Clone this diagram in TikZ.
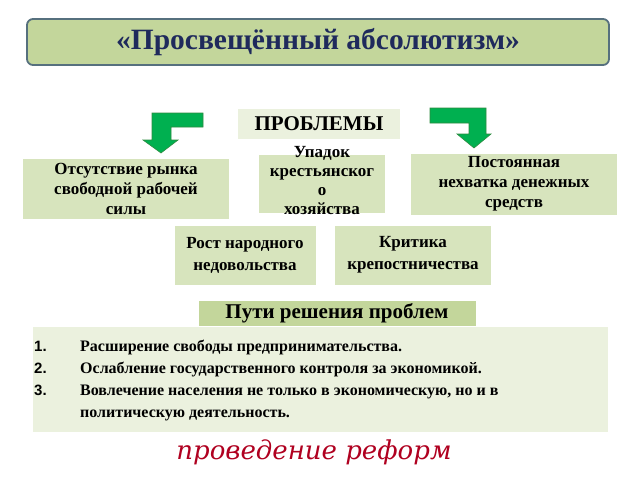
\documentclass[tikz,border=0pt]{standalone}
\usepackage{fontspec}
\setmainfont{Liberation Serif}
\newfontfamily\numfont{Liberation Sans}
\newfontfamily\reformfont{DejaVu Serif}
\definecolor{titlefill}{HTML}{C3D69B}
\definecolor{titleline}{HTML}{56707E}
\definecolor{titletext}{HTML}{1F2A5C}
\definecolor{boxfill}{HTML}{D7E4BD}
\definecolor{palefill}{HTML}{EBF1DE}
\definecolor{arrowfill}{HTML}{00B050}
\definecolor{arrowline}{HTML}{2E8B40}
\definecolor{reformred}{HTML}{B00020}
\begin{document}
\begin{tikzpicture}[x=1pt,y=-1pt,
    box/.style={fill=boxfill,inner sep=0pt,align=center,font=\bfseries\fontsize{17}{20}\selectfont},
    item/.style={anchor=base west,inner sep=0pt,font=\bfseries\fontsize{16}{22}\selectfont},
    num/.style={anchor=base west,inner sep=0pt,font=\numfont\bfseries\fontsize{15}{22}\selectfont},
    bent/.style={fill=arrowfill,draw=arrowline,line width=0.6pt,line join=miter}]
    \useasboundingbox (0,0) rectangle (640,480);
    \fill[white] (0,0) rectangle (640,480);
    % title
    \node[fill=titlefill,draw=titleline,line width=1.8pt,rounded corners=6pt,
        minimum width=582,minimum height=46,text=titletext,
        font=\bfseries\fontsize{29.5}{32}\selectfont] (title) at (318,42) {«Просвещённый абсолютизм»};
    % heading of problems
    \node[fill=palefill,minimum width=162,minimum height=30,inner sep=0pt,
        font=\bfseries\fontsize{21}{24}\selectfont] (problems) at (319,124) {ПРОБЛЕМЫ};
    % bent arrows
    \draw[bent] (203,113)--(152,113)--(152,140)--(143,140)--(161,153)--(178,140)--(171,140)--(171,127)--(203,127)--cycle;
    \draw[bent] (430,108)--(486,108)--(486,134)--(491,134)--(474,148)--(457,134)--(469,134)--(469,123)--(430,123)--cycle;
    % problems
    \node[box,minimum width=206,minimum height=60] (market) at (126,189) {Отсутствие рынка\\свободной рабочей\\силы};
    \node[box,minimum width=126,minimum height=58] (decline) at (322,184) {};
    \node[inner sep=0pt,align=center,font=\bfseries\fontsize{17}{19}\selectfont] (declinetext) at (322,181) {Упадок\\крестьянског\\о\\хозяйства};
    \node[box,minimum width=206,minimum height=61] (money) at (514,184) {Постоянная\\нехватка денежных\\средств};
    \node[box,font=\bfseries\fontsize{17}{22}\selectfont,minimum width=141,minimum height=59] (discontent) at (245,255) {Рост народного\\недовольства};
    \node[box,font=\bfseries\fontsize{17}{22}\selectfont,minimum width=156,minimum height=59] (critique) at (413,255) {Критика\\крепостничества};
    % solutions
    \node[fill=titlefill,minimum width=277,minimum height=25,inner sep=0pt,
        font=\bfseries\fontsize{21}{24}\selectfont] (ways) at (337,313) {Пути решения проблем};
    \node[fill=palefill,minimum width=575,minimum height=105,inner sep=0pt] (list) at (320,379) {};
    \node[num] (n1) at (34,351) {1.};
    \node[item] (i1) at (80,351) {Расширение свободы предпринимательства.};
    \node[num] (n2) at (34,373) {2.};
    \node[item] (i2) at (80,373) {Ослабление государственного контроля за экономикой.};
    \node[num] (n3) at (34,395) {3.};
    \node[item] (i3) at (80,395) {Вовлечение населения не только в экономическую, но и в};
    \node[item] (i3b) at (80,417) {политическую деятельность.};
    \node[text=reformred,font=\reformfont\itshape\fontsize{26}{28}\selectfont] (reform) at (314,452) {проведение реформ};
\end{tikzpicture}
\end{document}
